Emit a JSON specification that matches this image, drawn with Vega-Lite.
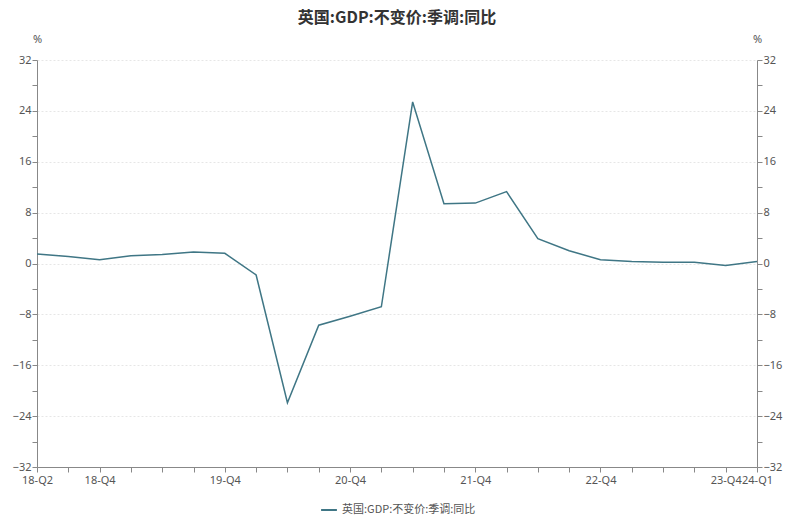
{
  "$schema": "https://vega.github.io/schema/vega-lite/v6.json",
  "autosize": "none",
  "width": 720,
  "height": 407,
  "padding": {"left": 37, "top": 60, "right": 39, "bottom": 51},
  "background": "white",
  "title": {
    "text": "英国:GDP:不变价:季调:同比",
    "anchor": "middle",
    "font": "Noto Sans CJK SC",
    "fontSize": 16,
    "fontWeight": "bold",
    "color": "#333333",
    "offset": 7
  },
  "data": {
    "values": [
      {"q": "18-Q2", "v": 1.5, "s": "英国:GDP:不变价:季调:同比"},
      {"q": "18-Q3", "v": 1.1, "s": "英国:GDP:不变价:季调:同比"},
      {"q": "18-Q4", "v": 0.6, "s": "英国:GDP:不变价:季调:同比"},
      {"q": "19-Q1", "v": 1.2, "s": "英国:GDP:不变价:季调:同比"},
      {"q": "19-Q2", "v": 1.4, "s": "英国:GDP:不变价:季调:同比"},
      {"q": "19-Q3", "v": 1.8, "s": "英国:GDP:不变价:季调:同比"},
      {"q": "19-Q4", "v": 1.6, "s": "英国:GDP:不变价:季调:同比"},
      {"q": "20-Q1", "v": -1.8, "s": "英国:GDP:不变价:季调:同比"},
      {"q": "20-Q2", "v": -21.9, "s": "英国:GDP:不变价:季调:同比"},
      {"q": "20-Q3", "v": -9.7, "s": "英国:GDP:不变价:季调:同比"},
      {"q": "20-Q4", "v": -8.3, "s": "英国:GDP:不变价:季调:同比"},
      {"q": "21-Q1", "v": -6.8, "s": "英国:GDP:不变价:季调:同比"},
      {"q": "21-Q2", "v": 25.4, "s": "英国:GDP:不变价:季调:同比"},
      {"q": "21-Q3", "v": 9.4, "s": "英国:GDP:不变价:季调:同比"},
      {"q": "21-Q4", "v": 9.5, "s": "英国:GDP:不变价:季调:同比"},
      {"q": "22-Q1", "v": 11.3, "s": "英国:GDP:不变价:季调:同比"},
      {"q": "22-Q2", "v": 3.9, "s": "英国:GDP:不变价:季调:同比"},
      {"q": "22-Q3", "v": 2.0, "s": "英国:GDP:不变价:季调:同比"},
      {"q": "22-Q4", "v": 0.6, "s": "英国:GDP:不变价:季调:同比"},
      {"q": "23-Q1", "v": 0.3, "s": "英国:GDP:不变价:季调:同比"},
      {"q": "23-Q2", "v": 0.2, "s": "英国:GDP:不变价:季调:同比"},
      {"q": "23-Q3", "v": 0.2, "s": "英国:GDP:不变价:季调:同比"},
      {"q": "23-Q4", "v": -0.3, "s": "英国:GDP:不变价:季调:同比"},
      {"q": "24-Q1", "v": 0.3, "s": "英国:GDP:不变价:季调:同比"}
    ]
  },
  "encoding": {
    "x": {
      "field": "q",
      "type": "ordinal",
      "sort": null,
      "scale": {"type": "point", "padding": 0},
      "axis": {
        "title": null,
        "labelAngle": 0,
        "labelExpr": "indexof(['18-Q2','18-Q4','19-Q4','20-Q4','21-Q4','22-Q4','23-Q4','24-Q1'], datum.value) >= 0 ? datum.value : ''",
        "labelFont": "Noto Sans",
        "labelFontSize": 11,
        "labelColor": "#555555",
        "labelOverlap": false,
        "labelPadding": 2,
        "domainColor": "#888888",
        "tickColor": "#888888",
        "tickSize": 5,
        "grid": false
      }
    }
  },
  "layer": [
    {
      "mark": {"type": "line", "strokeWidth": 1.5},
      "encoding": {
        "y": {
          "field": "v",
          "type": "quantitative",
          "scale": {"domain": [-32, 32], "nice": false},
          "axis": {
            "title": "%",
            "titleAngle": 0,
            "titleX": 0,
            "titleY": -16,
            "titleAlign": "center",
            "titleFont": "Noto Sans",
            "titleFontSize": 11,
            "titleFontWeight": "normal",
            "titleColor": "#555555",
            "values": [-32, -28, -24, -20, -16, -12, -8, -4, 0, 4, 8, 12, 16, 20, 24, 28, 32],
            "labelExpr": "datum.value % 8 == 0 ? datum.label : ''",
            "labelFont": "Noto Sans",
            "labelFontSize": 11,
            "labelColor": "#555555",
            "labelPadding": 1,
            "domainColor": "#888888",
            "tickColor": "#888888",
            "tickSize": 5,
            "gridColor": "#e6e6e6",
            "gridDash": [2, 2],
            "gridOpacity": {"condition": {"test": "datum.value % 8 == 0 && datum.value != -32", "value": 1}, "value": 0}
          }
        },
        "color": {
          "field": "s",
          "type": "nominal",
          "scale": {"range": ["#3f7685"]},
          "legend": {
            "title": null,
            "orient": "none",
            "legendX": 283,
            "legendY": 441,
            "direction": "horizontal",
            "symbolType": "stroke",
            "symbolStrokeWidth": 2,
            "symbolSize": 250,
            "labelFont": "Noto Sans CJK SC",
            "labelFontSize": 11,
            "labelColor": "#555555"
          }
        }
      }
    },
    {
      "mark": {"type": "line", "opacity": 0},
      "encoding": {
        "y": {
          "field": "v",
          "type": "quantitative",
          "scale": {"domain": [-32, 32], "nice": false},
          "axis": {
            "orient": "right",
            "title": "%",
            "titleAngle": 0,
            "titleX": 0,
            "titleY": -16,
            "titleAlign": "center",
            "titleFont": "Noto Sans",
            "titleFontSize": 11,
            "titleFontWeight": "normal",
            "titleColor": "#555555",
            "values": [-32, -28, -24, -20, -16, -12, -8, -4, 0, 4, 8, 12, 16, 20, 24, 28, 32],
            "labelExpr": "datum.value % 8 == 0 ? datum.label : ''",
            "labelFont": "Noto Sans",
            "labelFontSize": 11,
            "labelColor": "#555555",
            "labelPadding": 1,
            "domainColor": "#888888",
            "tickColor": "#888888",
            "tickSize": 5,
            "grid": false
          }
        }
      }
    }
  ],
  "resolve": {"scale": {"y": "independent"}},
  "config": {"view": {"stroke": null}}
}
